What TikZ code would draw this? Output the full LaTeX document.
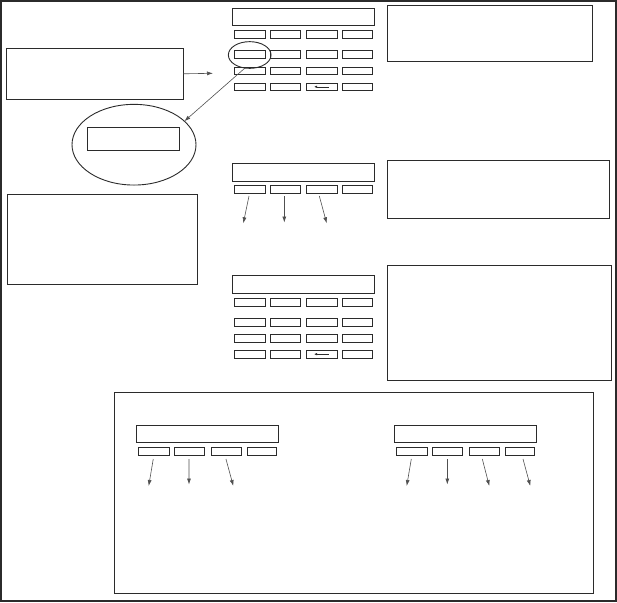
\documentclass[tikz,border=0pt]{standalone}
\usetikzlibrary{shapes.geometric,arrows.meta,calc}
\definecolor{ink}{HTML}{2B2B2B}
\definecolor{arr}{HTML}{505050}
\newcommand{\bx}[6][box]{\node[#1,minimum width={#5-#3},minimum height={#6-#4}] (#2) at ({(#3+#5)/2},{(#4+#6)/2}) {};}
\begin{document}
\begin{tikzpicture}[x=1pt,y=-1pt,
  box/.style={draw=ink,line width=1pt,rectangle,inner sep=0pt,outer sep=0pt},
  keybox/.style={draw=ink,line width=0.9pt,rectangle,inner sep=0pt,outer sep=0pt},
  oval/.style={draw=ink,line width=0.9pt,ellipse,inner sep=0pt,outer sep=0pt},
  conn/.style={draw=arr,line width=0.6pt,-{Latex[length=6pt,width=4pt]}},
  tinyarr/.style={draw=ink,line width=0.6pt,-{Latex[length=3pt,width=2.5pt]}}]
\useasboundingbox (0,0) rectangle (617,602);
\draw[ink,line width=1.3pt] (1,1) rectangle (616,601);

% left side
\bx{leftA}{6.3}{48.3}{183.3}{99.3}
\bx{leftB}{7.3}{194.3}{197.7}{284.3}
\node[oval,minimum width=124,minimum height=80.7] (bigell) at (134,144.7) {};
\bx{zoomkey}{87.3}{127.3}{179.7}{150.3}

% right boxes
\bx{rA}{387.3}{5.3}{592.7}{61.3}
\bx{rB}{387.3}{160.3}{609.7}{218.7}
\bx{rC}{387.3}{265.3}{611.7}{380.3}

% keypad 1
\bx{dispA}{232.3}{8.3}{374.3}{25.3}
\foreach \r/\ya/\yb in {1/30.7/38,2/50.7/58.3,3/67.7/74.7,4/83.3/90.3}{
  \foreach \c/\xa/\xb in {1/234.3/265.7,2/270.3/300.7,3/306.3/337.3,4/342.3/372.7}{
    \bx[keybox]{kA-\r-\c}{\xa}{\ya}{\xb}{\yb}
  }
}
\draw[tinyarr] ($(kA-4-3.center)+(6.7,0)$) -- ($(kA-4-3.center)+(-7.8,0)$);
\node[oval,minimum width=42.7,minimum height=26.7] (smell) at (249.7,55) {};

% keypad 2
\bx{dispB}{232.3}{163.3}{374.3}{181}
\foreach \c/\xa/\xb in {1/234.3/265.7,2/270.3/300.7,3/306.3/337.3,4/342.3/372.7}{
  \bx[keybox]{kB-\c}{\xa}{185}{\xb}{193.3}
}
\coordinate (eB1) at (243.3,223.3);
\coordinate (eB2) at (284.3,222.5);
\coordinate (eB3) at (326.7,223.3);
\draw[conn] ($(kB-1.south)+(-1,2.7)$) -- (eB1);
\draw[conn] ($(kB-2.south)+(-1.2,2.7)$) -- (eB2);
\draw[conn] ($(kB-3.south)+(-2.5,2.7)$) -- (eB3);

% keypad 3
\bx{dispC}{232.3}{275.3}{374.3}{293.7}
\foreach \r/\ya/\yb in {1/298.7/306.7,2/318.3/326.7,3/334/342.3,4/350/358.3}{
  \foreach \c/\xa/\xb in {1/234.3/265.7,2/270.3/300.7,3/306.3/337.3,4/342.3/372.7}{
    \bx[keybox]{kC-\r-\c}{\xa}{\ya}{\xb}{\yb}
  }
}
\draw[tinyarr] ($(kC-4-3.center)+(6.7,0)$) -- ($(kC-4-3.center)+(-7.8,0)$);

% connectors top-left
\coordinate (pA) at (213,73.3);
\draw[conn] (leftA.east) -- (pA);
\draw[conn] (smell.250) -- (bigell.25);

% bottom panel
\bx{panel}{114.3}{392.3}{593.3}{593.3}
\bx{dispD}{136.3}{425.3}{278.7}{442.3}
\foreach \c/\xa/\xb in {1/138/169.3,2/174/204.3,3/211/241.3,4/247/276.3}{
  \bx[keybox]{kD-\c}{\xa}{447}{\xb}{455.3}
}
\coordinate (eD1) at (148.7,486);
\coordinate (eD2) at (189,484.5);
\coordinate (eD3) at (233.3,486);
\draw[conn] ($(kD-1.south)+(-0.4,3.7)$) -- (eD1);
\draw[conn] ($(kD-2.south)+(-0.2,3.7)$) -- (eD2);
\draw[conn] ($(kD-3.south)+(-0.2,3.7)$) -- (eD3);

\bx{dispE}{394.3}{425.3}{536.7}{442.3}
\foreach \c/\xa/\xb in {1/396.3/427.3,2/432.3/462.3,3/469.3/499.7,4/505.3/534.3}{
  \bx[keybox]{kE-\c}{\xa}{447}{\xb}{455.3}
}
\coordinate (eE1) at (406.7,486);
\coordinate (eE2) at (447.3,484.5);
\coordinate (eE3) at (489.3,486);
\coordinate (eE4) at (530.3,486);
\draw[conn] ($(kE-1.south)+(-0.5,3.7)$) -- (eE1);
\draw[conn] ($(kE-2.south)+(0,3.7)$) -- (eE2);
\draw[conn] ($(kE-3.south)+(-2.2,3.7)$) -- (eE3);
\draw[conn] ($(kE-4.south)+(3.2,3.7)$) -- (eE4);
\end{tikzpicture}
\end{document}
